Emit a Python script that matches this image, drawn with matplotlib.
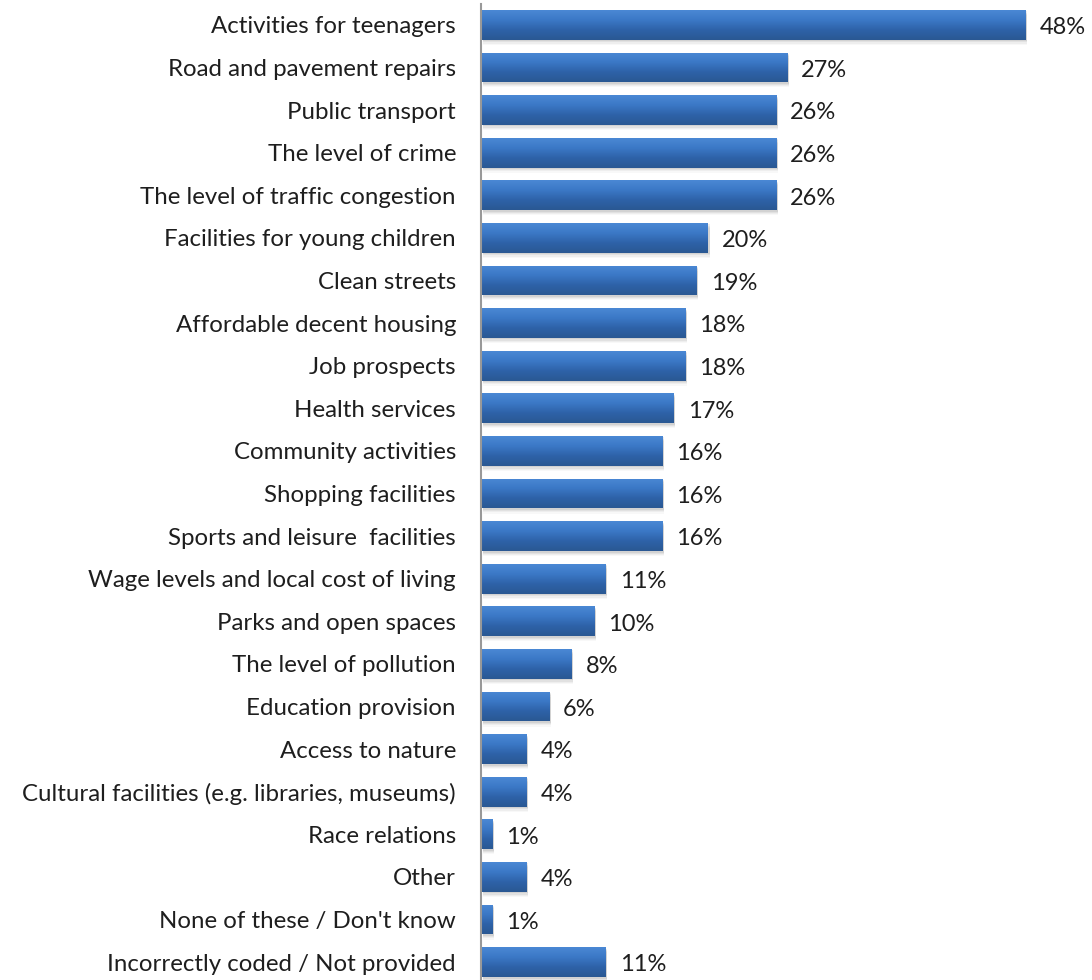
import numpy as np
import matplotlib
matplotlib.use("Agg")
import matplotlib.pyplot as plt
from matplotlib.colors import LinearSegmentedColormap
from matplotlib.patches import Rectangle
import matplotlib.transforms as mtransforms

categories = [
    "Activities for teenagers",
    "Road and pavement repairs",
    "Public transport",
    "The level of crime",
    "The level of traffic congestion",
    "Facilities for young children",
    "Clean streets",
    "Affordable decent housing",
    "Job prospects",
    "Health services",
    "Community activities",
    "Shopping facilities",
    "Sports and leisure  facilities",
    "Wage levels and local cost of living",
    "Parks and open spaces",
    "The level of pollution",
    "Education provision",
    "Access to nature",
    "Cultural facilities (e.g. libraries, museums)",
    "Race relations",
    "Other",
    "None of these / Don't know",
    "Incorrectly coded / Not provided",
]
values = [48, 27, 26, 26, 26, 20, 19, 18, 18, 17, 16, 16, 16, 11, 10, 8, 6, 4, 4, 1, 4, 1, 11]

plt.rcParams["font.family"] = ["Lato", "DejaVu Sans"]

W, H = 1092, 980
fig = plt.figure(figsize=(W / 100, H / 100), dpi=100)
ax = fig.add_axes([481 / W, 0, 1 - 481 / W, 976 / H])

y = np.arange(len(categories))
bar_h = 0.70
bars = ax.barh(y, values, height=bar_h, color="none", edgecolor="none", zorder=3)

ax.set_xlim(0, (W - 481) / 11.35)
ax.set_ylim(22.42, -0.49)

grad = LinearSegmentedColormap.from_list(
    "blue_grad", ["#4a88d4", "#3b78c6", "#2e62a8", "#2a5893"])
gimg = np.linspace(0, 1, 64).reshape(-1, 1)

for rect in bars:
    x0, yc0 = rect.get_x(), rect.get_y()
    w, h = rect.get_width(), rect.get_height()
    # soft drop shadow under each bar
    for k, a in enumerate([0.10, 0.08, 0.06, 0.04]):
        off = mtransforms.offset_copy(ax.transData, fig=fig, x=1.5, y=-(1.5 + k * 1.2), units="dots")
        ax.add_patch(Rectangle((x0, yc0), w, h, facecolor="#555555", alpha=a,
                               edgecolor="none", transform=off, zorder=2))
    im = ax.imshow(gimg, cmap=grad, aspect="auto", extent=(x0, x0 + w, yc0 + h, yc0),
                   interpolation="bilinear", zorder=3)
    im.set_clip_path(rect)

for v, yy in zip(values, y):
    ax.annotate(f"{v}%", (v, yy), xytext=(10, -2), textcoords="offset points",
                va="center", ha="left", fontsize=17, color="#1e1e1e")

ax.set_yticks(y)
ax.set_yticklabels(categories, fontsize=17.3, color="#1e1e1e")
ax.tick_params(axis="y", length=0, pad=18)
ax.set_xticks([])
for s in ["top", "right", "bottom"]:
    ax.spines[s].set_visible(False)
ax.spines["left"].set_color("#999999")
ax.spines["left"].set_linewidth(1.5)
ax.spines["left"].set_zorder(5)

fig.savefig("out.png", dpi=100, facecolor="white")
